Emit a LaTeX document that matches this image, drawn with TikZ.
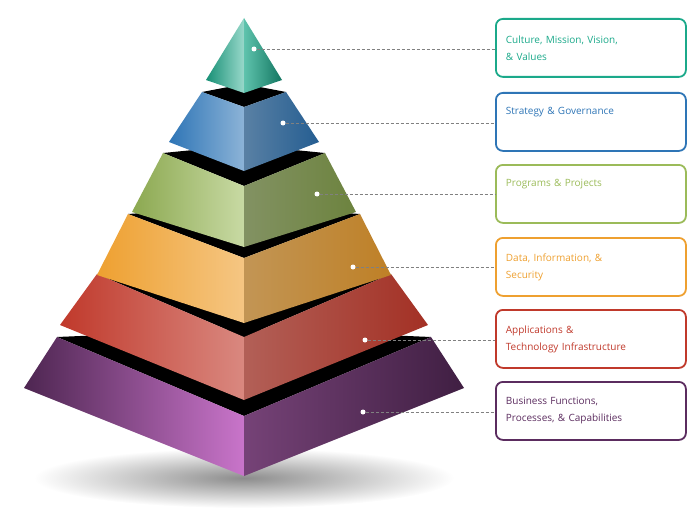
\documentclass[tikz,border=0pt]{standalone}
\usepackage{fontspec}
\setmainfont{Open Sans}
\definecolor{cteal}{HTML}{1BA98A}
\definecolor{cblue}{HTML}{2E75B6}
\definecolor{cgreen}{HTML}{9BBB59}
\definecolor{corange}{HTML}{EEA030}
\definecolor{cred}{HTML}{C0392B}
\definecolor{cpurple}{HTML}{5B2C5F}
\tikzset{
 lbl/.style={draw=#1,text=#1,line width=1.8pt,rounded corners=7pt,minimum width=190pt,minimum height=58pt,anchor=north west,align=left,text width=170pt,inner sep=0pt,font=\fontsize{10}{17}\selectfont},
 dot/.style={circle,fill=white,inner sep=0pt,minimum size=5pt},
 lead/.style={gray,dashed,line width=0.6pt,dash pattern=on 3pt off 2pt},
}
\newcommand{\tier}[9]{%
 % #1 yT #2 wT #3 yF #4 yB #5 wB #6 yFB #7 leftdark #8 light #9 rightdark
 \fill[black] (244-#2,#1) -- (244,#1-8) -- (244+#2,#1) -- (244,#3) -- cycle;
 \shade[left color=#7,right color=#8] (244-#2,#1) -- (244,#3) -- (244,#6) -- (244-#5,#4) -- cycle;
 \shade[left color=#8!70!#9,right color=#9] (244,#3) -- (244+#2,#1) -- (244+#5,#4) -- (244,#6) -- cycle;
}
\begin{document}
\begin{tikzpicture}[x=1pt,y=-1pt]
\useasboundingbox (0,0) rectangle (700,524);
\shade[inner color=black!45,outer color=white] (244,478) ellipse (210 and 30);
\tier{337}{187}{416}{388}{220}{476}{cpurple!85!black}{cpurple!55!magenta!60!white}{cpurple!70!black}
\tier{274}{147}{337}{325}{184}{400}{cred}{cred!60!white}{cred!85!black}
\tier{214}{116}{258}{275}{147}{323}{corange}{corange!60!white}{corange!80!black}
\tier{153}{81}{186}{212}{112}{247}{cgreen!90!black}{cgreen!55!white}{cgreen!70!black}
\tier{92}{42}{107}{142}{75}{171}{cblue}{cblue!55!white}{cblue!80!black}
\shade[left color=cteal!85!black,right color=cteal!45!white] (244,18) -- (206,80) -- (244,93) -- cycle;
\shade[left color=cteal!70!white,right color=cteal!70!black] (244,18) -- (244,93) -- (282,80) -- cycle;
\node[lbl=cteal] (b1) at (495,18) {Culture, Mission, Vision,\\\& Values};
\node[lbl=cblue] (b2) at (495,92) {Strategy \& Governance\\\strut};
\node[lbl=cgreen] (b3) at (495,164) {Programs \& Projects\\\strut};
\node[lbl=corange] (b4) at (495,237) {Data, Information, \&\\Security};
\node[lbl=cred] (b5) at (495,309) {Applications \&\\Technology Infrastructure};
\node[lbl=cpurple] (b6) at (495,381) {Business Functions,\\Processes, \& Capabilities};
\node[dot] (d1) at (254,49) {};
\node[dot] (d2) at (283,123) {};
\node[dot] (d3) at (317,194) {};
\node[dot] (d4) at (353,267) {};
\node[dot] (d5) at (365,340) {};
\node[dot] (d6) at (363,412) {};
\foreach \i in {1,...,6}{\draw[lead] (d\i.east) -- (d\i.east -| b\i.west);}
\end{tikzpicture}
\end{document}
